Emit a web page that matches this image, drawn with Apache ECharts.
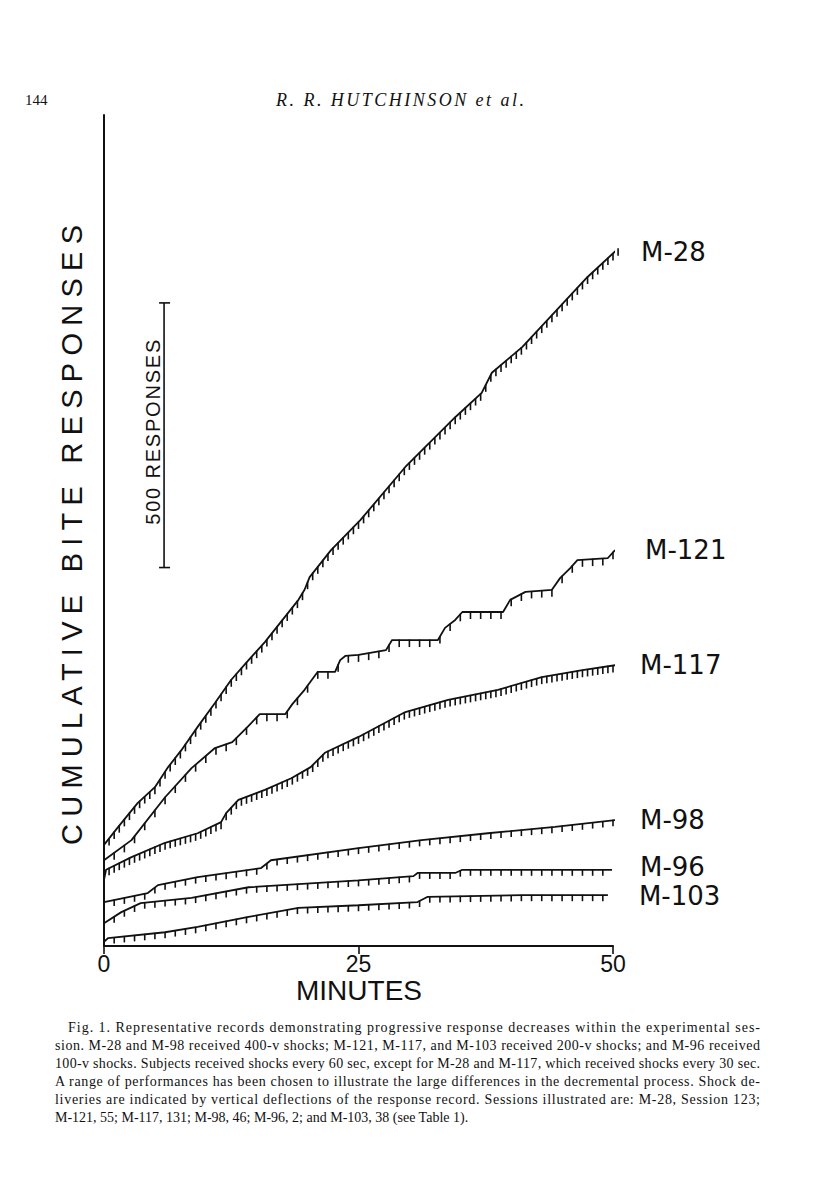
<!DOCTYPE html>
<html>
<head>
<meta charset="utf-8">
<script src="https://cdn.jsdelivr.net/npm/echarts@6/dist/echarts.min.js"></script>
<style>
html,body{margin:0;padding:0;background:#fff;}
#chart{width:816px;height:1193px;}
</style>
</head>
<body>
<div id="chart"></div>
<script>
// ---- data (minutes, cumulative responses incl. pen offset) ----
const seriesNames = ['M-28', 'M-121', 'M-117', 'M-98', 'M-96', 'M-103'];
const m28 = [[0,191],[1.4,225],[3.3,270],[5.0,300],[6.3,338],[7.6,370],[9.2,414],[10.9,459],[12.5,503],[14.2,540],[15.8,574],[19.1,654],[19.7,673],[20.2,697],[22.3,748],[25.2,805],[29.6,905],[34.5,999],[37.1,1045],[38.1,1083],[41.1,1132],[44.3,1198],[47.5,1264],[50.7,1321]];
const m121 = [[0,162],[2.7,200],[6.0,281],[8.6,336],[10.9,374],[12.6,385],[14.2,416],[15.3,438],[17.8,438],[18.5,457],[19.7,484],[21.0,518],[22.7,518],[23.2,540],[23.7,548],[25.0,550],[27.7,559],[28.3,578],[32.8,578],[33.5,601],[34.5,616],[35.2,631],[39.2,631],[39.9,654],[41.4,669],[44.0,673],[44.8,695],[45.8,714],[46.5,729],[49.5,733],[50.2,748]];
const m117 = [[0,125],[0.2,144],[2.7,168],[6.0,195],[9.2,213],[11.5,234],[12.0,251],[13.2,276],[15.8,295],[18.4,317],[20.3,338],[21.7,365],[25.0,395],[29.6,442],[33.8,465],[38.7,484],[43.0,508],[47.0,521],[50.4,531]];
const m98 = [[0,83],[4.3,100],[5.3,115],[9.2,130],[15.4,147],[16.4,162],[25.0,185],[31.2,200],[37.7,213],[44.3,225],[50.2,238]];
const m96 = [[0,43],[1.7,64],[3.6,81],[8.6,91],[14.2,111],[25.0,124],[30.4,132],[30.8,138],[34.5,138],[35.2,144],[49.9,144]];
const m103 = [[0,8],[0.4,15],[6.0,26],[9.2,36],[14.2,55],[19.1,72],[25.0,77],[30.8,83],[31.8,93],[41.1,96],[49.5,96]];
// shock schedule (minutes between shocks): M-28 and M-117 every 30 s, others every 60 s
const shockInterval = [0.5, 1, 0.5, 1, 1, 1];
const xTickValues = [0, 25, 50];
const scaleBarResponses = 500;
const scaleBarFrom = 715;
const scaleBarAt = 5.9;

const curves = [m28, m121, m117, m98, m96, m103];

const captionLines = [
  'Fig. 1. Representative records demonstrating progressive response decreases within the experimental ses-',
  'sion. M-28 and M-98 received 400-v shocks; M-121, M-117, and M-103 received 200-v shocks; and M-96 received',
  '100-v shocks. Subjects received shocks every 60 sec, except for M-28 and M-117, which received shocks every 30 sec.',
  'A range of performances has been chosen to illustrate the large differences in the decremental process. Shock de-',
  'liveries are indicated by vertical deflections of the response record. Sessions illustrated are: M-28, Session 123;',
  'M-121, 55; M-117, 131; M-98, 46; M-96, 2; and M-103, 38 (see Table 1).'
];

// ---- helpers ----
function curveAt(data, t) {
  for (let i = 1; i < data.length; i++) {
    if (t <= data[i][0]) {
      const a = data[i - 1], b = data[i];
      const f = (t - a[0]) / (b[0] - a[0]);
      return a[1] + f * (b[1] - a[1]);
    }
  }
  return data[data.length - 1][1];
}
function shockPoints(data, iv) {
  const last = data[data.length - 1][0];
  const out = [];
  for (let k = 1; k * iv <= last + 1e-9; k++) {
    const t = Math.round(k * iv * 1000) / 1000;
    out.push([t, curveAt(data, t)]);
  }
  return out;
}

const INK = '#111';
const labelDistance = [26, 30, 25, 25, 28, 31];
const labelOffset = [[0, 0], [0, 0], [0, 0], [0, 0], [0, -3], [0, 1]];
const tickLen = [7, 7, 7, 6, 6, 6];

const series = [];
curves.forEach((d, i) => {
  series.push({
    name: seriesNames[i],
    type: 'line',
    data: d,
    showSymbol: false,
    clip: false,
    silent: true,
    lineStyle: { color: INK, width: 1.8 },
    endLabel: {
      show: true,
      formatter: '{a}',
      distance: labelDistance[i],
      offset: labelOffset[i],
      color: INK,
      fontFamily: 'DejaVu Sans',
      fontSize: 26,
      lineHeight: 23
    },
    z: 3
  });
  const tl = tickLen[i];
  series.push({
    name: seriesNames[i] + ' shocks',
    type: 'custom',
    data: shockPoints(d, shockInterval[i]),
    clip: false,
    silent: true,
    renderItem: function (params, api) {
      const p = api.coord([api.value(0), api.value(1)]);
      return {
        type: 'line',
        shape: { x1: p[0], y1: p[1] - 0.5, x2: p[0], y2: p[1] + tl },
        style: { stroke: INK, lineWidth: 1.6 }
      };
    },
    z: 3
  });
});

// scale bar
series.push({
  name: 'scale',
  type: 'custom',
  data: [[scaleBarAt, scaleBarFrom, scaleBarFrom + scaleBarResponses]],
  clip: false,
  silent: true,
  renderItem: function (params, api) {
    const lo = api.coord([api.value(0), api.value(1)]);
    const hi = api.coord([api.value(0), api.value(2)]);
    const ls = { stroke: INK, lineWidth: 1.6 };
    return {
      type: 'group',
      children: [
        { type: 'line', shape: { x1: lo[0], y1: lo[1], x2: hi[0], y2: hi[1] }, style: ls },
        { type: 'line', shape: { x1: lo[0] - 5, y1: lo[1], x2: lo[0] + 6, y2: lo[1] }, style: ls },
        { type: 'line', shape: { x1: hi[0] - 5, y1: hi[1], x2: hi[0] + 6, y2: hi[1] }, style: ls },
        {
          type: 'text',
          x: lo[0] - 11,
          y: (lo[1] + hi[1]) / 2 - 3,
          rotation: Math.PI / 2,
          style: {
            text: '500 RESPONSES',
            fill: INK,
            font: '20px "Liberation Sans", Arial, sans-serif',
            align: 'center',
            verticalAlign: 'middle'
          }
        }
      ]
    };
  }
});

const graphic = [
  { type: 'text', left: 25, top: 92, style: { text: '144', fill: INK, font: '15px "Liberation Serif", serif' } },
  { type: 'text', x: 400, y: 100, style: { text: 'R. R. HUTCHINSON et al.', fill: INK, font: 'italic 18px "Liberation Serif", serif', align: 'center', verticalAlign: 'middle' } },
  { type: 'text', x: 72, y: 535, rotation: Math.PI / 2, style: { text: 'CUMULATIVE BITE RESPONSES', fill: INK, font: '29px "Liberation Sans", Arial, sans-serif', align: 'center', verticalAlign: 'middle' } },
  { type: 'text', x: 359, y: 990, style: { text: 'MINUTES', fill: INK, font: '28px "Liberation Sans", Arial, sans-serif', align: 'center', verticalAlign: 'middle' } }
];
const captionTop = 1027, captionStep = 18;
captionLines.forEach((line, i) => {
  graphic.push({
    type: 'text',
    x: i === 0 ? 68 : 55,
    y: captionTop + i * captionStep,
    style: { text: line, fill: INK, font: '14px "Liberation Serif", serif', align: 'left', verticalAlign: 'middle' }
  });
});

const chart = echarts.init(document.getElementById('chart'), null, { renderer: 'svg', width: 816, height: 1193 });
chart.setOption({
  backgroundColor: '#fff',
  animation: false,
  grid: { left: 104, top: 115, width: 509, height: 831, containLabel: false },
  xAxis: {
    type: 'value', min: 0, max: 50, interval: 25,
    axisLine: { show: true, lineStyle: { color: INK, width: 2 } },
    axisTick: { show: true, inside: false, length: 8, lineStyle: { color: INK, width: 1.6 } },
    axisLabel: { show: true, margin: 6, color: INK, fontSize: 23, fontFamily: '"Liberation Sans", Arial, sans-serif',
      formatter: v => (xTickValues.indexOf(v) >= 0 ? String(v) : '') },
    splitLine: { show: false }
  },
  yAxis: {
    type: 'value', min: 0, max: 1570,
    axisLine: { show: true, lineStyle: { color: INK, width: 2 } },
    axisTick: { show: false }, axisLabel: { show: false }, splitLine: { show: false }
  },
  series: series,
  graphic: graphic
});

// stretch some texts to the reference's spacing (SVG textLength)
const stretch = {
  'CUMULATIVE BITE RESPONSES': 620,
  '500 RESPONSES': 185,
  'R. R. HUTCHINSON et al.': 248
};
captionLines.forEach((l, i) => { if (i < 5) stretch[l] = i === 0 ? 692 : 705; });
function applyStretch() {
  document.querySelectorAll('#chart text').forEach(t => {
    const L = stretch[t.textContent];
    if (L) { t.setAttribute('textLength', L); t.setAttribute('lengthAdjust', 'spacing'); }
  });
}
applyStretch();
chart.on('finished', applyStretch);
setTimeout(applyStretch, 0);
setTimeout(applyStretch, 60);
</script>
</body>
</html>
